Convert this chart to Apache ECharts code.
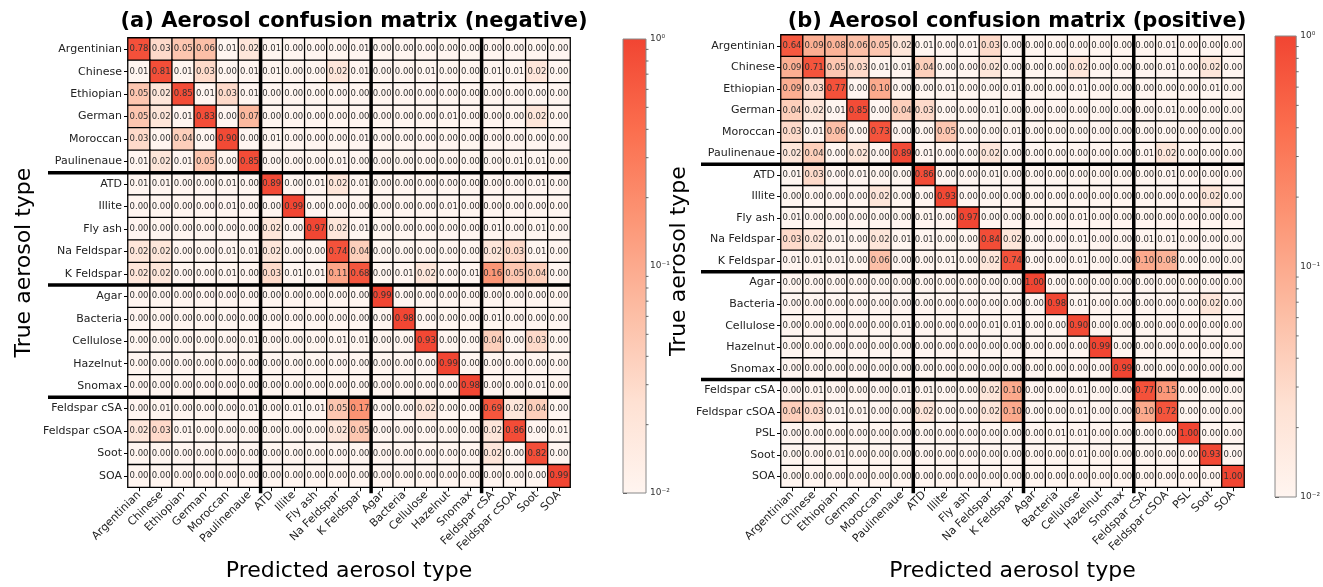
<!DOCTYPE html>
<html><head><meta charset="utf-8">
<script src="https://cdn.jsdelivr.net/npm/echarts@6/dist/echarts.min.js"></script>
<style>html,body{margin:0;padding:0;background:#fff}#c{width:1323px;height:587px}</style>
</head><body><div id="c"></div>
<script>
// ---------- data ----------
const catsNeg = ['Argentinian','Chinese','Ethiopian','German','Moroccan','Paulinenaue','ATD','Illite','Fly ash','Na Feldspar','K Feldspar','Agar','Bacteria','Cellulose','Hazelnut','Snomax','Feldspar cSA','Feldspar cSOA','Soot','SOA'];
const groupsNeg = [6,5,5,4];
const valsNeg = [
 [0.78,0.03,0.05,0.06,0.01,0.02, 0.01,0,0,0,0.01, 0,0,0,0,0, 0,0,0,0],
 [0.01,0.81,0.01,0.03,0,0.01, 0.01,0,0,0.02,0.01, 0,0,0.01,0,0, 0.01,0.01,0.02,0],
 [0.05,0.02,0.85,0.01,0.03,0.01, 0,0,0,0,0, 0,0,0,0,0, 0,0,0,0],
 [0.05,0.02,0.01,0.83,0,0.07, 0,0,0,0,0, 0,0,0,0.01,0, 0,0,0.02,0],
 [0.03,0,0.04,0,0.90,0, 0.01,0,0,0,0.01, 0,0,0,0,0, 0,0,0,0],
 [0.01,0.02,0.01,0.05,0,0.85, 0,0,0,0.01,0, 0,0,0,0,0, 0,0.01,0.01,0],
 [0.01,0.01,0,0,0.01,0, 0.89,0,0.01,0.02,0.01, 0,0,0,0,0, 0,0,0.01,0],
 [0,0,0,0,0.01,0, 0,0.99,0,0,0, 0,0,0,0.01,0, 0,0,0,0],
 [0,0,0,0,0,0, 0.02,0,0.97,0.02,0.01, 0,0,0,0,0, 0.01,0,0.01,0],
 [0.02,0.02,0,0,0.01,0.01, 0.02,0,0,0.74,0.04, 0,0,0,0,0, 0.02,0.03,0.01,0],
 [0.02,0.02,0,0,0.01,0, 0.03,0.01,0.01,0.11,0.68, 0,0.01,0.02,0,0.01, 0.16,0.05,0.04,0],
 [0,0,0,0,0,0, 0,0,0,0,0, 0.99,0,0,0,0, 0,0,0,0],
 [0,0,0,0,0,0, 0,0,0,0,0, 0,0.98,0,0,0, 0.01,0,0,0],
 [0,0,0,0,0,0.01, 0,0,0,0.01,0.01, 0,0,0.93,0,0, 0.04,0,0.03,0],
 [0,0,0,0,0,0, 0,0,0,0,0, 0,0,0,0.99,0, 0,0,0,0],
 [0,0,0,0,0,0, 0,0,0,0,0, 0,0,0,0,0.98, 0,0,0.01,0],
 [0,0.01,0,0,0,0.01, 0,0.01,0.01,0.05,0.17, 0,0,0.02,0,0, 0.69,0.02,0.04,0],
 [0.02,0.03,0.01,0,0,0, 0,0,0,0.02,0.05, 0,0,0,0,0, 0.02,0.86,0,0.01],
 [0,0,0,0,0,0, 0,0,0,0,0, 0,0,0,0,0, 0.02,0,0.82,0],
 [0,0,0,0,0,0, 0,0,0,0,0, 0,0,0,0,0, 0,0,0,0.99]
];
const catsPos = ['Argentinian','Chinese','Ethiopian','German','Moroccan','Paulinenaue','ATD','Illite','Fly ash','Na Feldspar','K Feldspar','Agar','Bacteria','Cellulose','Hazelnut','Snomax','Feldspar cSA','Feldspar cSOA','PSL','Soot','SOA'];
const groupsPos = [6,5,5,5];
const valsPos = [
 [0.64,0.09,0.08,0.06,0.05,0.02, 0.01,0,0.01,0.03,0, 0,0,0,0,0, 0,0.01,0,0,0],
 [0.09,0.71,0.05,0.03,0.01,0.01, 0.04,0,0,0.02,0, 0,0,0.02,0,0, 0,0.01,0,0.02,0],
 [0.09,0.03,0.77,0,0.10,0, 0,0.01,0,0,0.01, 0,0,0.01,0,0, 0,0,0,0.01,0],
 [0.04,0.02,0.01,0.85,0,0.04, 0.03,0,0,0.01,0, 0,0,0,0,0, 0,0.01,0,0,0],
 [0.03,0.01,0.06,0,0.73,0, 0,0.05,0,0,0.01, 0,0,0,0,0, 0,0,0,0,0],
 [0.02,0.04,0,0.02,0,0.89, 0.01,0,0,0.02,0, 0,0,0,0,0, 0.01,0.02,0,0,0],
 [0.01,0.03,0,0.01,0,0, 0.86,0,0,0.01,0, 0,0,0,0,0, 0,0.01,0,0,0],
 [0,0,0,0,0.02,0, 0,0.93,0,0,0, 0,0,0,0,0, 0,0,0,0.02,0],
 [0.01,0,0,0,0,0, 0.01,0,0.97,0,0, 0,0,0.01,0,0, 0,0,0,0,0],
 [0.03,0.02,0.01,0,0.02,0.01, 0.01,0,0,0.84,0.02, 0,0,0.01,0,0, 0.01,0.01,0,0,0],
 [0.01,0.01,0.01,0,0.06,0, 0,0.01,0,0.02,0.74, 0,0,0.01,0,0, 0.10,0.08,0,0,0],
 [0,0,0,0,0,0, 0,0,0,0,0, 1.00,0,0,0,0, 0,0,0,0,0],
 [0,0,0,0,0,0, 0,0,0,0,0, 0,0.98,0.01,0,0, 0,0,0,0.02,0],
 [0,0,0,0,0,0.01, 0,0,0,0.01,0.01, 0,0,0.90,0,0, 0,0,0,0,0],
 [0,0,0,0,0,0, 0,0,0,0,0, 0,0,0,0.99,0, 0,0,0,0,0],
 [0,0,0,0,0,0, 0,0,0,0,0, 0,0,0,0,0.99, 0,0,0,0,0],
 [0,0.01,0,0,0,0.01, 0.01,0,0,0.02,0.10, 0,0,0.01,0,0, 0.77,0.15,0,0,0],
 [0.04,0.03,0.01,0.01,0,0, 0.02,0,0,0.02,0.10, 0,0,0.01,0,0, 0.10,0.72,0,0,0],
 [0,0,0,0,0,0, 0,0,0,0,0, 0,0.01,0.01,0,0, 0,0,1.00,0,0],
 [0,0,0.01,0,0,0, 0,0,0,0,0, 0,0,0.01,0,0, 0,0,0,0.93,0],
 [0,0,0,0,0,0, 0,0,0,0,0, 0,0,0,0,0, 0,0,0,0,1.00]
];
const cbTickVals = [-2,-1,0];
const cbTickLabels = {'-2':'10⁻²','-1':'10⁻¹','0':'10⁰'};
const titleNeg = '(a) Aerosol confusion matrix (negative)';
const titlePos = '(b) Aerosol confusion matrix (positive)';
const xName = 'Predicted aerosol type';
const yName = 'True aerosol type';

// ---------- helpers ----------
const FONT = 'DejaVu Sans';
const stops = ['#fff5f0','#fee1d3','#fcbda4','#fc9676','#fb6e4e','#f14532'];
function cells(vals){
  const out=[];
  vals.forEach((row,yi)=>row.forEach((v,xi)=>{out.push([xi,yi,v,v>0?Math.log10(v):-3]);}));
  return out;
}
function bounds(groups){
  const b=[];let s=0;
  for(let i=0;i<groups.length-1;i++){s+=groups[i];b.push([s-1,s-1]);}
  return b;
}
function sepRender(params, api){
  const k=api.value(0);
  const c=api.coord([k,k]);
  const s=api.size([1,1]);
  const cs=params.coordSys;
  const x=c[0]+s[0]/2, y=c[1]+s[1]/2;
  const st={stroke:'#000',lineWidth:3.5};
  return {type:'group',children:[
    {type:'line',shape:{x1:x,y1:cs.y,x2:x,y2:cs.y+cs.height+6},style:st},
    {type:'line',shape:{x1:cs.x-80,y1:y,x2:cs.x+cs.width,y2:y},style:st}
  ]};
}
function cbRender(params, api){
  const p0=api.coord([0,-2]), p1=api.coord([1,0]);
  return {type:'rect',shape:{x:p0[0],y:p1[1],width:p1[0]-p0[0],height:p0[1]-p1[1]},
    style:{fill:{type:'linear',x:0,y:1,x2:0,y2:0,colorStops:stops.map((c,i)=>({offset:i/(stops.length-1),color:c}))},
      stroke:'#888',lineWidth:1}};
}
const minorTicks=[];
[-2,-1].forEach(e=>{for(let k=2;k<=9;k++)minorTicks.push([1,e+Math.log10(k)]);});
function minorRender(params, api){
  const p=api.coord([1,api.value(1)]);
  return {type:'line',shape:{x1:p[0],y1:p[1],x2:p[0]+2.5,y2:p[1]},style:{stroke:'#444',lineWidth:0.8}};
}
function catAxes(cats, gi, nameGapX, nameGapY){
  const common={type:'category',data:cats,gridIndex:gi,
    axisLine:{show:true,lineStyle:{color:'#000',width:1}},
    axisTick:{show:true,alignWithLabel:true,length:4,lineStyle:{color:'#000'}},
    splitArea:{show:false},splitLine:{show:false},
    nameLocation:'middle',nameTextStyle:{fontFamily:FONT,fontSize:22,color:'#000'}};
  return {
    x:Object.assign({},common,{position:'bottom',name:xName,nameGap:nameGapX,
      axisLabel:{rotate:45,interval:0,fontSize:11,fontFamily:FONT,color:'#222',margin:6}}),
    y:Object.assign({},common,{inverse:true,name:yName,nameGap:nameGapY,
      axisLabel:{interval:0,fontSize:11,fontFamily:FONT,color:'#222',margin:6}})
  };
}
const aN=catAxes(catsNeg,0,70,93), aP=catAxes(catsPos,1,66,91);
function cbAxes(gi){
  return {
    x:{type:'value',gridIndex:gi,min:0,max:1,show:false},
    y:{type:'value',gridIndex:gi,min:-2,max:0,interval:1,position:'right',
      axisLine:{show:false},splitLine:{show:false},
      axisTick:{show:true,length:4,lineStyle:{color:'#444'}},
      axisLabel:{fontSize:9,fontFamily:FONT,color:'#333',margin:4,formatter:v=>cbTickLabels[String(v)]}}
  };
}
const cN=cbAxes(2), cP=cbAxes(3);
function heat(vals, idx){
  return {type:'heatmap',xAxisIndex:idx,yAxisIndex:idx,data:cells(vals),
    itemStyle:{borderColor:'#000',borderWidth:1.3},
    label:{show:true,fontSize:8.5,fontFamily:FONT,color:'#333',formatter:p=>p.value[2].toFixed(2)},
    emphasis:{disabled:true}};
}

const chart=echarts.init(document.getElementById('c'),null,{renderer:'canvas'});
chart.setOption({
  animation:false,
  backgroundColor:'#fff',
  title:[
    {text:titleNeg,left:349,top:6,textAlign:'center',textStyle:{fontFamily:FONT,fontWeight:'bold',fontSize:21,color:'#000'}},
    {text:titlePos,left:1012,top:6,textAlign:'center',textStyle:{fontFamily:FONT,fontWeight:'bold',fontSize:21,color:'#000'}}
  ],
  grid:[
    {left:128,top:38,width:442,height:454},
    {left:781,top:35,width:463,height:462},
    {left:623,top:39,width:23,height:454},
    {left:1275,top:36,width:22,height:461}
  ],
  xAxis:[aN.x,aP.x,cN.x,cP.x],
  yAxis:[aN.y,aP.y,cN.y,cP.y],
  visualMap:{show:false,type:'continuous',dimension:3,min:-2,max:0,seriesIndex:[0,1],
    inRange:{color:stops},outOfRange:{color:'#ffffff'}},
  series:[
    heat(valsNeg,0),
    heat(valsPos,1),
    {type:'custom',xAxisIndex:0,yAxisIndex:0,data:bounds(groupsNeg),renderItem:sepRender,z:5,silent:true},
    {type:'custom',xAxisIndex:1,yAxisIndex:1,data:bounds(groupsPos),renderItem:sepRender,z:5,silent:true},
    {type:'custom',xAxisIndex:2,yAxisIndex:2,data:[[0,0]],renderItem:cbRender,silent:true},
    {type:'custom',xAxisIndex:3,yAxisIndex:3,data:[[0,0]],renderItem:cbRender,silent:true},
    {type:'custom',xAxisIndex:2,yAxisIndex:2,data:minorTicks,renderItem:minorRender,silent:true},
    {type:'custom',xAxisIndex:3,yAxisIndex:3,data:minorTicks,renderItem:minorRender,silent:true}
  ]
});
</script></body></html>
